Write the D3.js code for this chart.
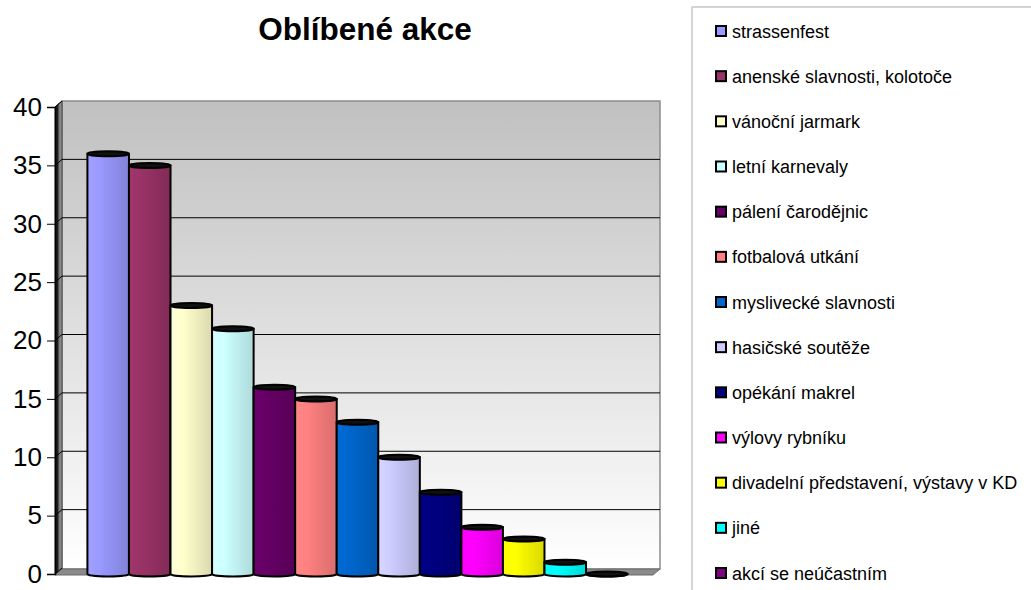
<!DOCTYPE html>
<html>
<head>
<meta charset="utf-8">
<script src="https://cdn.jsdelivr.net/npm/d3@7.9.0/dist/d3.min.js"></script>
<style>
  body { margin: 0; background: #fff; }
  svg { display: block; font-family: "Liberation Sans", Arial, sans-serif; }
</style>
</head>
<body>
<svg id="chart" width="1031" height="590"></svg>
<script>
// Chart data
const categories = [
  'strassenfest',
  'anenské slavnosti, kolotoče',
  'vánoční jarmark',
  'letní karnevaly',
  'pálení čarodějnic',
  'fotbalová utkání',
  'myslivecké slavnosti',
  'hasičské soutěže',
  'opékání makrel',
  'výlovy rybníku',
  'divadelní představení, výstavy v KD',
  'jiné',
  'akcí se neúčastním'
];
const values = [36, 35, 23, 21, 16, 15, 13, 10, 7, 4, 3, 1, 0];
const yTicks = [0, 5, 10, 15, 20, 25, 30, 35, 40];
const palette = ['#9999FF', '#993366', '#FFFFCC', '#CCFFFF', '#660066', '#FF8080',
  '#0066CC', '#CCCCFF', '#000080', '#FF00FF', '#FFFF00', '#00FFFF', '#800080'];

const svg = d3.select('#chart');
const defs = svg.append('defs');

// 3D depth offset of the back wall
const dx = 7, dy = -6;
const plotLeft = 55, plotRight = 653, plotTop = 107, plotBottom = 575;

const x = d3.scaleBand().domain(categories).range([plotLeft, plotRight + dx]).paddingInner(0).paddingOuter(0.78);
const y = d3.scaleLinear().domain([0, 40]).range([plotBottom - 1, plotTop]);

// Title
svg.append('text')
  .attr('x', 365).attr('y', 40)
  .attr('text-anchor', 'middle')
  .attr('font-size', 31.5).attr('font-weight', 'bold')
  .text('Oblíbené akce');

// Back wall gradient
const wallGrad = defs.append('linearGradient').attr('id', 'wall').attr('x1', 0).attr('y1', 0).attr('x2', 0).attr('y2', 1);
wallGrad.append('stop').attr('offset', 0).attr('stop-color', '#c0c0c0');
wallGrad.append('stop').attr('offset', 1).attr('stop-color', '#ffffff');

const sideGrad = defs.append('linearGradient').attr('id', 'side').attr('x1', 0).attr('y1', 0).attr('x2', 1).attr('y2', 0);
sideGrad.append('stop').attr('offset', 0).attr('stop-color', '#111');
sideGrad.append('stop').attr('offset', 0.45).attr('stop-color', '#222');
sideGrad.append('stop').attr('offset', 0.55).attr('stop-color', '#777');
sideGrad.append('stop').attr('offset', 1).attr('stop-color', '#999');

// back wall
svg.append('rect')
  .attr('x', plotLeft + dx).attr('y', plotTop + dy)
  .attr('width', plotRight - plotLeft).attr('height', plotBottom - plotTop)
  .attr('fill', 'url(#wall)')
  .attr('stroke', '#8c8c8c').attr('stroke-width', 1.5);

// left side wall
svg.append('path')
  .attr('d', `M${plotLeft},${plotTop}L${plotLeft + dx},${plotTop + dy}L${plotLeft + dx},${plotBottom + dy}L${plotLeft},${plotBottom}Z`)
  .attr('fill', 'url(#side)').attr('stroke', '#404040').attr('stroke-width', 1);

// floor
svg.append('path')
  .attr('d', `M${plotLeft},${plotBottom}L${plotLeft + dx},${plotBottom + dy}L${plotRight + dx},${plotBottom + dy}L${plotRight},${plotBottom}Z`)
  .attr('fill', '#8a8a8a').attr('stroke', '#6a6a6a').attr('stroke-width', 1);

// gridlines on back wall + diagonal on side wall
const grid = svg.append('g');
yTicks.filter(t => t > 0 && t < 40).forEach(t => {
  grid.append('line')
    .attr('x1', plotLeft + dx).attr('x2', plotRight + dx)
    .attr('y1', y(t) + dy).attr('y2', y(t) + dy)
    .attr('stroke', '#000').attr('stroke-width', 1);
});
yTicks.forEach(t => {
  grid.append('line')
    .attr('x1', plotLeft).attr('x2', plotLeft + dx)
    .attr('y1', y(t)).attr('y2', y(t) + dy)
    .attr('stroke', '#000').attr('stroke-width', 1);
});

// y axis
const yAxis = svg.append('g')
  .attr('transform', `translate(${plotLeft},0)`)
  .call(d3.axisLeft(y).tickValues(yTicks).tickSize(8).tickPadding(5));
yAxis.select('.domain').attr('stroke', '#000').attr('stroke-width', 1.5);
yAxis.selectAll('.tick line').attr('stroke', '#000');
yAxis.selectAll('.tick text')
  .attr('font-size', 26).attr('fill', '#000')
  .attr('font-family', '"Liberation Sans", Arial, sans-serif');

// bar gradients
palette.forEach((c, i) => {
  const g = defs.append('linearGradient').attr('id', `bar${i}`).attr('x1', 0).attr('x2', 1).attr('y1', 0).attr('y2', 0);
  const base = d3.color(c);
  g.append('stop').attr('offset', 0).attr('stop-color', base.brighter(0.15));
  g.append('stop').attr('offset', 0.3).attr('stop-color', base);
  g.append('stop').attr('offset', 1).attr('stop-color', base.darker(0.45));
});

// cylinders
const ry = 2.5;
const bars = svg.append('g');
categories.forEach((cat, i) => {
  const bx = x(cat), w = x.bandwidth();
  const yTop = y(values[i]), y0 = y(0);
  const rx = w / 2;
  const g = bars.append('g');
  g.append('path')
    .attr('d', `M${bx},${yTop}L${bx},${y0}A${rx},${ry} 0 0 0 ${bx + w},${y0}L${bx + w},${yTop}Z`)
    .attr('fill', `url(#bar${i})`)
    .attr('stroke', '#000').attr('stroke-width', 2);
  g.append('ellipse')
    .attr('cx', bx + rx).attr('cy', yTop)
    .attr('rx', rx).attr('ry', ry)
    .attr('fill', '#111')
    .attr('stroke', '#000').attr('stroke-width', 2);
});

// Legend
const legend = svg.append('g');
legend.append('rect')
  .attr('x', 692).attr('y', 7)
  .attr('width', 360).attr('height', 600)
  .attr('fill', '#fff').attr('stroke', '#c8c8c8').attr('stroke-width', 1.5);

const ly = d3.scalePoint().domain(categories).range([31, 573]);
categories.forEach((cat, i) => {
  legend.append('rect')
    .attr('x', 716).attr('y', ly(cat) - 5)
    .attr('width', 10).attr('height', 10)
    .attr('fill', palette[i])
    .attr('stroke', '#000').attr('stroke-width', 2);
  legend.append('text')
    .attr('x', 732).attr('y', ly(cat) + 6.5)
    .attr('font-size', 18)
    .text(cat);
});
</script>
</body>
</html>
